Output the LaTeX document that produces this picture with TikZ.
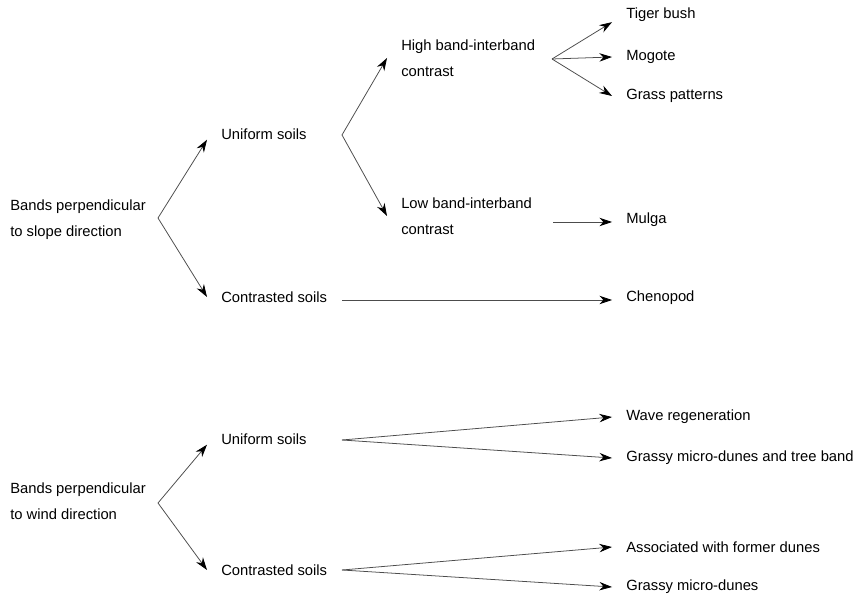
\documentclass[tikz,border=0pt]{standalone}
\usepackage{fontspec}
\setmainfont{Liberation Sans}
\usetikzlibrary{arrows.meta}
\tikzset{
  lbl/.style={anchor=west,align=left,inner xsep=0.35cm,inner ysep=0pt,
              font=\fontsize{10.5}{18.5}\selectfont},
  arr/.style={-{Stealth[length=9pt,width=6pt,black]},line width=0.55pt,black!70},
}
\begin{document}
\begin{tikzpicture}[x=0.025cm,y=-0.025cm]
  \useasboundingbox (0,0) rectangle (855,596);
  \node[lbl] (sl) at (-4,220) {Bands perpendicular\\to slope direction};
  \node[lbl] (su) at (207,134) {Uniform soils};
  \node[lbl] (sc) at (207,297) {Contrasted soils};
  \node[lbl] (sh) at (387,58)  {High band-interband\\contrast};
  \node[lbl] (sw) at (387,216) {Low band-interband\\contrast};
  \node[lbl] (tb) at (612,15)  {Tiger bush};
  \node[lbl] (mg) at (612,57)  {Mogote};
  \node[lbl] (gp) at (612,96)  {Grass patterns};
  \node[lbl] (mu) at (612,220) {Mulga};
  \node[lbl] (ch) at (612,298) {Chenopod};
  \coordinate (sj) at (158,218);
  \coordinate (uj) at (342,135);
  \coordinate (hj) at (552,59);
  \coordinate (lj) at (553,222);
  \coordinate (cj) at (342,300);

  \node[lbl] (wd) at (-4,501)  {Bands perpendicular\\to wind direction};
  \node[lbl] (wu) at (207,439) {Uniform soils};
  \node[lbl] (wc) at (207,570) {Contrasted soils};
  \node[lbl] (wr) at (612,417) {Wave regeneration};
  \node[lbl] (gt) at (612,458) {Grassy micro-dunes and tree band};
  \node[lbl] (af) at (612,547) {Associated with former dunes};
  \node[lbl] (gm) at (612,587) {Grassy micro-dunes};
  \coordinate (wj) at (158,503);
  \coordinate (wuj) at (342,440);
  \coordinate (wcj) at (342,570);

  \foreach \a/\b in {sj/su.south west,sj/sc.west,uj/sh.west,uj/sw.west,
                     hj/tb.south west,hj/mg.west,hj/gp.west,
                     wj/wu.south west,wj/wc.west,wuj/wr.west,wuj/gt.west,
                     wcj/af.west,wcj/gm.west}
    \draw[arr] (\a) -- (\b);
  \draw[arr] (lj) -- (lj -| mu.west);
  \draw[arr] (cj) -- (cj -| ch.west);
\end{tikzpicture}
\end{document}
